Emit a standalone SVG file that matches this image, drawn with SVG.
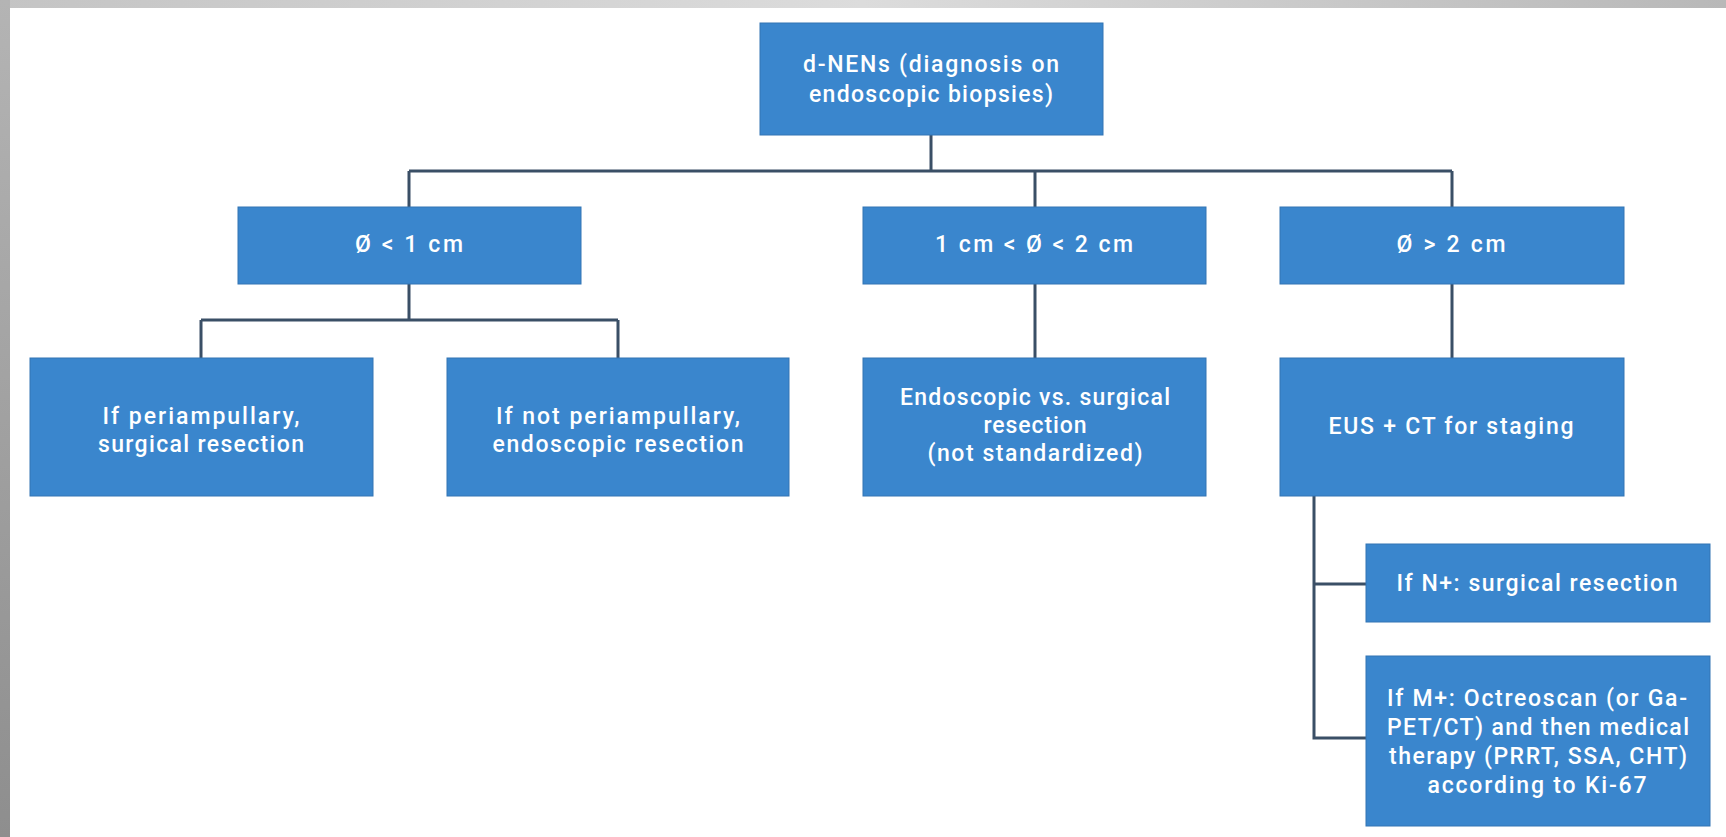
<svg xmlns="http://www.w3.org/2000/svg" width="1726" height="837" viewBox="0 0 1726 837">
<defs>
<linearGradient id="gTop" x1="0" y1="0" x2="1" y2="0">
<stop offset="0" stop-color="#c4c4c4"/><stop offset="0.5" stop-color="#dcdcdc"/><stop offset="1" stop-color="#b8b8b8"/>
</linearGradient>
<linearGradient id="gLeft" x1="0" y1="0" x2="0" y2="1">
<stop offset="0" stop-color="#b4b4b4"/><stop offset="1" stop-color="#8e8e8e"/>
</linearGradient>
<style>
.box{fill:#3a86cd;stroke:#3274b4;stroke-width:1}
.t{fill:#ffffff;font-family:Roboto,"Open Sans",sans-serif;font-weight:500;font-size:23px;text-anchor:middle;dominant-baseline:central}
.c{fill:none;stroke:#3a4f66;stroke-width:3}
</style>
</defs>
<rect x="0" y="0" width="1726" height="837" fill="#ffffff"/>
<rect x="0" y="0" width="1726" height="8" fill="url(#gTop)"/>
<rect x="0" y="0" width="10" height="837" fill="url(#gLeft)"/>
<g id="connectors">
<path class="c" d="M931 135 V171 M409 171 H1452 M409 171 V207 M1035 171 V207 M1452 171 V207"/>
<path class="c" d="M409 284 V320 M201 320 H618 M201 320 V358 M618 320 V358"/>
<path class="c" d="M1035 284 V358 M1452 284 V358"/>
<path class="c" d="M1314 496 V738 H1366 M1314 584 H1366"/>
</g>
<g id="root">
<rect class="box" x="760" y="23" width="343" height="112"/>
<text class="t" x="931" y="64" textLength="256" lengthAdjust="spacing">d-NENs (diagnosis on</text>
<text class="t" x="931" y="94" textLength="244" lengthAdjust="spacing">endoscopic biopsies)</text>
</g>
<g id="lt1">
<rect class="box" x="238" y="207" width="343" height="77"/>
<text class="t" x="409" y="244" textLength="108" lengthAdjust="spacing">Ø &lt; 1 cm</text>
</g>
<g id="mid">
<rect class="box" x="863" y="207" width="343" height="77"/>
<text class="t" x="1034" y="244" textLength="198" lengthAdjust="spacing">1 cm &lt; Ø &lt; 2 cm</text>
</g>
<g id="gt2">
<rect class="box" x="1280" y="207" width="344" height="77"/>
<text class="t" x="1451" y="244" textLength="109" lengthAdjust="spacing">Ø &gt; 2 cm</text>
</g>
<g id="peri">
<rect class="box" x="30" y="358" width="343" height="138"/>
<text class="t" x="201" y="416" textLength="197" lengthAdjust="spacing">If periampullary,</text>
<text class="t" x="201" y="444" textLength="206" lengthAdjust="spacing">surgical resection</text>
</g>
<g id="notperi">
<rect class="box" x="447" y="358" width="342" height="138"/>
<text class="t" x="618" y="416" textLength="244" lengthAdjust="spacing">If not periampullary,</text>
<text class="t" x="618" y="444" textLength="251" lengthAdjust="spacing">endoscopic resection</text>
</g>
<g id="endo">
<rect class="box" x="863" y="358" width="343" height="138"/>
<text class="t" x="1035" y="397" textLength="270" lengthAdjust="spacing">Endoscopic vs. surgical</text>
<text class="t" x="1035" y="425" textLength="103" lengthAdjust="spacing">resection</text>
<text class="t" x="1035" y="453" textLength="215" lengthAdjust="spacing">(not standardized)</text>
</g>
<g id="eus">
<rect class="box" x="1280" y="358" width="344" height="138"/>
<text class="t" x="1451" y="426" textLength="245" lengthAdjust="spacing">EUS + CT for staging</text>
</g>
<g id="nplus">
<rect class="box" x="1366" y="544" width="344" height="78"/>
<text class="t" x="1537" y="583" textLength="281" lengthAdjust="spacing">If N+: surgical resection</text>
</g>
<g id="mplus">
<rect class="box" x="1366" y="656" width="344" height="170"/>
<text class="t" x="1537" y="698" textLength="300" lengthAdjust="spacing">If M+: Octreoscan (or Ga-</text>
<text class="t" x="1538" y="727" textLength="302" lengthAdjust="spacing">PET/CT) and then medical</text>
<text class="t" x="1538" y="756" textLength="298" lengthAdjust="spacing">therapy (PRRT, SSA, CHT)</text>
<text class="t" x="1537" y="785" textLength="219" lengthAdjust="spacing">according to Ki-67</text>
</g>
</svg>
